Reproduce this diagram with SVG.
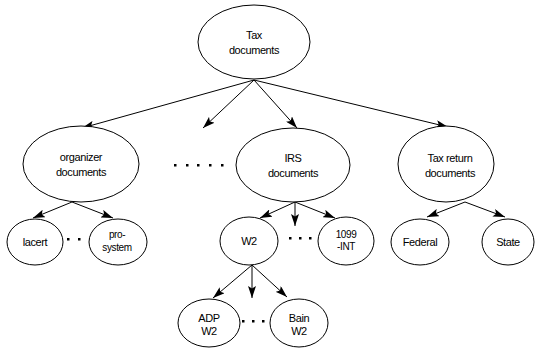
<svg xmlns="http://www.w3.org/2000/svg" width="536" height="352" viewBox="0 0 536 352">
<style>
.n ellipse{fill:#fff;stroke:#000;stroke-width:1}
.n text{font-family:"Liberation Sans",Arial,sans-serif;font-size:11px;fill:#000;text-anchor:middle;letter-spacing:-0.4px}
.n text.s{font-size:10px}
.c line{stroke:#000;stroke-width:1;marker-end:url(#ah)}
.d rect{fill:#000}
</style>
<defs>
<marker id="ah" markerUnits="userSpaceOnUse" markerWidth="12" markerHeight="8" refX="12" refY="4" orient="auto">
<path d="M0,0 L12,4 L0,8 L2.5,4 z" fill="#000"/>
</marker>
</defs>
<rect width="536" height="352" fill="#fff"/>
<g id="connectors" class="c">
<line x1="254" y1="80" x2="82" y2="128"/>
<line x1="254" y1="80" x2="203" y2="128"/>
<line x1="254" y1="80" x2="297" y2="128"/>
<line x1="254" y1="80" x2="448" y2="127"/>
<line x1="72" y1="202" x2="33" y2="218"/>
<line x1="72" y1="202" x2="113" y2="218"/>
<line x1="295" y1="202" x2="260" y2="218"/>
<line x1="295" y1="202" x2="295" y2="226"/>
<line x1="295" y1="202" x2="335" y2="218"/>
<line x1="465" y1="202" x2="427" y2="217"/>
<line x1="465" y1="202" x2="505" y2="217"/>
<line x1="252" y1="265" x2="213" y2="298"/>
<line x1="252" y1="265" x2="252" y2="298"/>
<line x1="252" y1="265" x2="287" y2="297"/>
</g>
<g id="dots" class="d">
<rect x="174" y="164" width="2.5" height="2.5"/>
<rect x="186" y="164" width="2.5" height="2.5"/>
<rect x="197" y="164" width="2.5" height="2.5"/>
<rect x="209" y="164" width="2.5" height="2.5"/>
<rect x="221" y="164" width="2.5" height="2.5"/>
<rect x="67" y="238" width="2.5" height="2.5"/>
<rect x="78" y="238" width="2.5" height="2.5"/>
<rect x="89" y="238" width="2.5" height="2.5"/>
<rect x="289" y="237" width="2.5" height="2.5"/>
<rect x="299" y="237" width="2.5" height="2.5"/>
<rect x="309" y="237" width="2.5" height="2.5"/>
<rect x="319" y="237" width="2.5" height="2.5"/>
<rect x="242" y="320" width="2.5" height="2.5"/>
<rect x="252" y="320" width="2.5" height="2.5"/>
<rect x="262" y="320" width="2.5" height="2.5"/>
<rect x="271" y="320" width="2.5" height="2.5"/>
</g>
<g id="tax-documents" class="n">
<ellipse cx="254" cy="42" rx="56" ry="37"/>
<text x="254" y="39">Tax</text>
<text x="254" y="54">documents</text>
</g>
<g id="organizer-documents" class="n">
<ellipse cx="81" cy="164" rx="58" ry="38"/>
<text x="81" y="161">organizer</text>
<text x="81" y="176">documents</text>
</g>
<g id="irs-documents" class="n">
<ellipse cx="293" cy="165" rx="57" ry="37"/>
<text x="293" y="162">IRS</text>
<text x="293" y="177">documents</text>
</g>
<g id="tax-return-documents" class="n">
<ellipse cx="446" cy="164" rx="48" ry="38"/>
<text x="450" y="162">Tax return</text>
<text x="450" y="177">documents</text>
</g>
<g id="lacert" class="n">
<ellipse cx="35" cy="242" rx="28" ry="23"/>
<text x="35" y="246">lacert</text>
</g>
<g id="pro-system" class="n">
<ellipse cx="118" cy="242" rx="29" ry="23"/>
<text class="s" x="117" y="238">pro-</text>
<text class="s" x="117" y="251">system</text>
</g>
<g id="w2" class="n">
<ellipse cx="249" cy="241" rx="29" ry="24"/>
<text x="249" y="245">W2</text>
</g>
<g id="int1099" class="n">
<ellipse cx="346" cy="241" rx="28" ry="24"/>
<text class="s" x="346" y="238">1099</text>
<text class="s" x="346" y="250">-INT</text>
</g>
<g id="federal" class="n">
<ellipse cx="420" cy="242" rx="29" ry="23"/>
<text x="420" y="246">Federal</text>
</g>
<g id="state" class="n">
<ellipse cx="508" cy="242" rx="26" ry="23"/>
<text x="508" y="246">State</text>
</g>
<g id="adp-w2" class="n">
<ellipse cx="209" cy="323" rx="31" ry="24"/>
<text x="209" y="322">ADP</text>
<text x="209" y="335">W2</text>
</g>
<g id="bain-w2" class="n">
<ellipse cx="299" cy="323" rx="29" ry="24"/>
<text x="299" y="322">Bain</text>
<text x="299" y="335">W2</text>
</g>
</svg>
